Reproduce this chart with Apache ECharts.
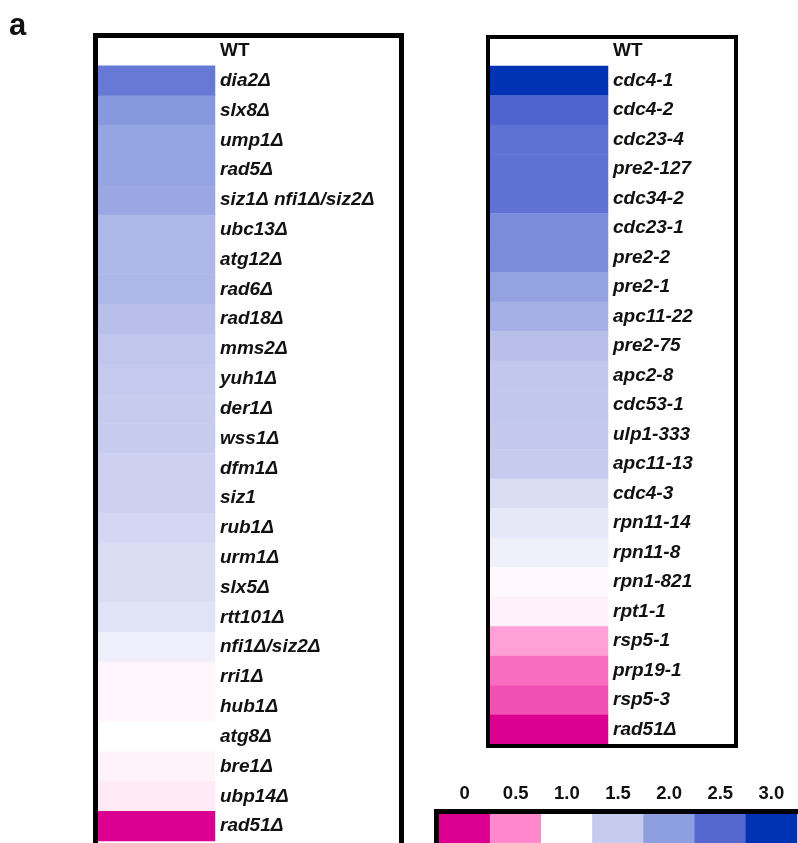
<!DOCTYPE html>
<html>
<head>
<meta charset="utf-8">
<script src="https://cdn.jsdelivr.net/npm/echarts@6/dist/echarts.min.js"></script>
<style>
html,body{margin:0;padding:0;background:#fff;}
#chart{width:798px;height:843px;}
</style>
</head>
<body>
<div id="chart"></div>
<script>
const leftGenes = ['WT','dia2Δ','slx8Δ','ump1Δ','rad5Δ','siz1Δ nfi1Δ/siz2Δ','ubc13Δ','atg12Δ','rad6Δ','rad18Δ','mms2Δ','yuh1Δ','der1Δ','wss1Δ','dfm1Δ','siz1','rub1Δ','urm1Δ','slx5Δ','rtt101Δ','nfi1Δ/siz2Δ','rri1Δ','hub1Δ','atg8Δ','bre1Δ','ubp14Δ','rad51Δ'];
const leftValues = [1.0, 2.35, 2.06, 1.94, 1.94, 1.9, 1.72, 1.72, 1.72, 1.63, 1.56, 1.52, 1.5, 1.5, 1.45, 1.45, 1.38, 1.34, 1.34, 1.28, 1.15, 0.96, 0.96, 1.0, 0.95, 0.91, 0.0];

const rightGenes = ['WT','cdc4-1','cdc4-2','cdc23-4','pre2-127','cdc34-2','cdc23-1','pre2-2','pre2-1','apc11-22','pre2-75','apc2-8','cdc53-1','ulp1-333','apc11-13','cdc4-3','rpn11-14','rpn11-8','rpn1-821','rpt1-1','rsp5-1','prp19-1','rsp5-3','rad51Δ'];
const rightValues = [1.0, 3.0, 2.54, 2.41, 2.41, 2.41, 2.17, 2.17, 1.96, 1.8, 1.63, 1.55, 1.55, 1.53, 1.5, 1.33, 1.22, 1.14, 0.97, 0.94, 0.6, 0.4, 0.29, 0.0];

const legendLabels = ['0','0.5','1.0','1.5','2.0','2.5','3.0'];
const legendValues = [0, 0.5, 1.0, 1.5, 2.0, 2.5, 3.0];

const scaleColors = ['#dc0090','#ff88cc','#ffffff','#c7cbee','#8e9fe0','#5468d0','#0033b3'];

const FONT = 'Liberation Sans';

function catData(list){
  return list.map(function(g){
    return g === 'WT' ? {value:g, textStyle:{fontStyle:'normal'}} : {value:g};
  });
}
function cells(vals){ return vals.map(function(v,i){ return [0,i,v]; }); }

const labelStyle = {
  margin: 5, fontSize: 19, fontWeight: 'bold', fontStyle: 'italic',
  color: '#111', fontFamily: FONT, padding: [0,0,3,0]
};

const chart = echarts.init(document.getElementById('chart'), null, {renderer:'canvas'});
chart.setOption({
  animation: false,
  backgroundColor: '#fff',
  grid: [
    {left: 98, top: 36, width: 117, height: 805},
    {left: 490, top: 36.5, width: 118, height: 708},
    {left: 439, top: 814, width: 358, height: 40}
  ],
  xAxis: [
    {gridIndex:0, type:'category', data:['v'], show:false},
    {gridIndex:1, type:'category', data:['v'], show:false},
    {gridIndex:2, type:'category', data:legendLabels, position:'top',
     axisLine:{show:false}, axisTick:{show:true, length:2, alignWithLabel:true, lineStyle:{color:'#bbb'}},
     axisLabel:{margin:11, fontSize:18.5, fontWeight:'bold', color:'#111', fontFamily:FONT}}
  ],
  yAxis: [
    {gridIndex:0, type:'category', data:catData(leftGenes), inverse:true, position:'right',
     axisLine:{show:false}, axisTick:{show:false}, axisLabel:labelStyle},
    {gridIndex:1, type:'category', data:catData(rightGenes), inverse:true, position:'right',
     axisLine:{show:false}, axisTick:{show:false}, axisLabel:labelStyle},
    {gridIndex:2, type:'category', data:['c'], show:false}
  ],
  visualMap: {
    type:'continuous', show:false, min:0, max:3, dimension:2,
    seriesIndex:[0,1,2],
    inRange:{color: scaleColors}
  },
  series: [
    {type:'heatmap', xAxisIndex:0, yAxisIndex:0, data:cells(leftValues)},
    {type:'heatmap', xAxisIndex:1, yAxisIndex:1, data:cells(rightValues)},
    {type:'heatmap', xAxisIndex:2, yAxisIndex:2, data:legendValues.map(function(v,i){return [i,0,v];})}
  ],
  graphic: [
    {type:'text', left: 9, top: 11, style:{text:'a', font:'bold 31px "Liberation Sans"', fill:'#111'}},
    {type:'rect', z:100, shape:{x:95.5, y:35.5, width:306, height:830},
     style:{fill:'none', stroke:'#000', lineWidth:5}},
    {type:'rect', z:100, shape:{x:488, y:37, width:248, height:709},
     style:{fill:'none', stroke:'#000', lineWidth:4}},
    {type:'rect', z:100, shape:{x:436.5, y:811.5, width:370, height:50},
     style:{fill:'none', stroke:'#000', lineWidth:5}}
  ]
});
</script>
</body>
</html>
